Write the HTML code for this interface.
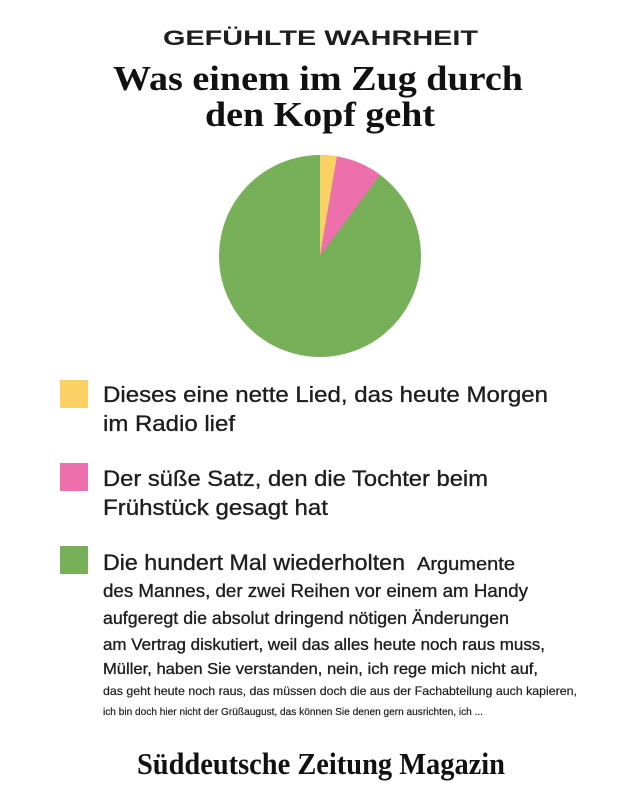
<!DOCTYPE html>
<html><head><meta charset="utf-8"><style>
html,body{margin:0;padding:0;background:#fff;}
svg{display:block;}
</style></head><body>
<svg width="640" height="800" viewBox="0 0 640 800" xmlns="http://www.w3.org/2000/svg">
<rect width="640" height="800" fill="#fff"/>
<g font-family="Liberation Sans, sans-serif" fill="#1e1e1e">
<text x="163" y="45" font-size="21" font-weight="bold" textLength="315" lengthAdjust="spacingAndGlyphs">GEFÜHLTE WAHRHEIT</text>
</g>
<g font-family="Liberation Serif, serif" font-weight="bold" fill="#111">
<text x="113" y="90" font-size="35" textLength="410" lengthAdjust="spacingAndGlyphs">Was einem im Zug durch</text>
<text x="205" y="126" font-size="35" textLength="230" lengthAdjust="spacingAndGlyphs">den Kopf geht</text>
</g>
<circle cx="320" cy="256" r="101" fill="#78b05a"/>
<path d="M320,256 L320,155 A101,101 0 0,1 337,156.4 Z" fill="#fbd166"/>
<path d="M320,256 L337,156.4 A101,101 0 0,1 380,174.7 Z" fill="#ed6fac"/>
<rect x="60" y="380" width="28" height="28" fill="#fbd166"/>
<rect x="60" y="463" width="28" height="28" fill="#ed6fac"/>
<rect x="60" y="546" width="28" height="28" fill="#78b05a"/>
<g font-family="Liberation Sans, sans-serif" fill="#1e1e1e" stroke="#1e1e1e" stroke-width="0.35">
<text x="103" y="402" font-size="22" textLength="445" lengthAdjust="spacingAndGlyphs">Dieses eine nette Lied, das heute Morgen</text>
<text x="103" y="431" font-size="22" textLength="132" lengthAdjust="spacingAndGlyphs">im Radio lief</text>
<text x="103" y="486" font-size="22" textLength="385" lengthAdjust="spacingAndGlyphs">Der süße Satz, den die Tochter beim</text>
<text x="103" y="515" font-size="22" textLength="225" lengthAdjust="spacingAndGlyphs">Frühstück gesagt hat</text>
<text x="103" y="570" font-size="22" textLength="302" lengthAdjust="spacingAndGlyphs">Die hundert Mal wiederholten</text>
<text x="417" y="570" font-size="18" textLength="98" lengthAdjust="spacingAndGlyphs">Argumente</text>
<text x="103" y="597" font-size="18.5" textLength="425" lengthAdjust="spacingAndGlyphs">des Mannes, der zwei Reihen vor einem am Handy</text>
<text x="103" y="624" font-size="17.5" textLength="406" lengthAdjust="spacingAndGlyphs">aufgeregt die absolut dringend nötigen Änderungen</text>
<text x="103" y="650" font-size="16.5" textLength="442" lengthAdjust="spacingAndGlyphs">am Vertrag diskutiert, weil das alles heute noch raus muss,</text>
<text x="103" y="674" font-size="16" textLength="435" lengthAdjust="spacingAndGlyphs">Müller, haben Sie verstanden, nein, ich rege mich nicht auf,</text>
<text x="103" y="695" font-size="12" stroke-width="0.2" textLength="474" lengthAdjust="spacingAndGlyphs">das geht heute noch raus, das müssen doch die aus der Fachabteilung auch kapieren,</text>
<text x="103" y="715" font-size="10.5" stroke-width="0.2" textLength="380" lengthAdjust="spacingAndGlyphs">ich bin doch hier nicht der Grüßaugust, das können Sie denen gern ausrichten, ich ...</text>
</g>
<text x="137" y="774" font-family="Liberation Serif, serif" font-weight="bold" font-size="31" fill="#111" textLength="368" lengthAdjust="spacingAndGlyphs">Süddeutsche Zeitung Magazin</text>
</svg>
</body></html>
